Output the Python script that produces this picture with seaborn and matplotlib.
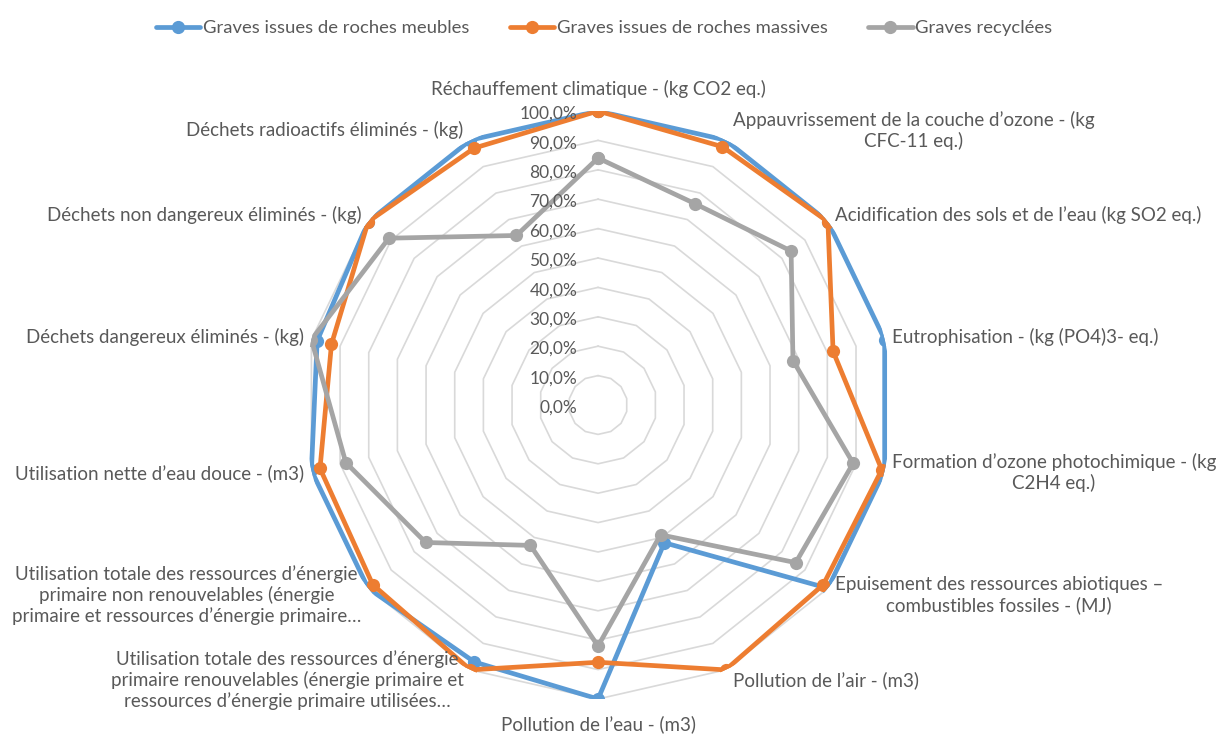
import numpy as np
import pandas as pd
import seaborn as sns
import matplotlib.pyplot as plt

# categories / series
categories = [
    "Réchauffement climatique - (kg CO2 eq.)",
    "Appauvrissement de la couche d’ozone - (kg\nCFC-11 eq.)",
    "Acidification des sols et de l’eau (kg SO2 eq.)",
    "Eutrophisation - (kg (PO4)3- eq.)",
    "Formation d’ozone photochimique - (kg\nC2H4 eq.)",
    "Epuisement des ressources abiotiques –\ncombustibles fossiles - (MJ)",
    "Pollution de l’air - (m3)",
    "Pollution de l’eau - (m3)",
    "Utilisation totale des ressources d’énergie\nprimaire renouvelables (énergie primaire et\nressources d’énergie primaire utilisées…",
    "Utilisation totale des ressources d’énergie\nprimaire non renouvelables (énergie\nprimaire et ressources d’énergie primaire…",
    "Utilisation nette d’eau douce - (m3)",
    "Déchets dangereux éliminés - (kg)",
    "Déchets non dangereux éliminés - (kg)",
    "Déchets radioactifs éliminés - (kg)",
]
meubles = [1.00, 1.00, 1.00, 1.00, 1.00, 1.00, 0.52, 1.00, 0.97, 1.00, 1.00, 0.98, 1.00, 1.00]
massives = [1.00, 0.975, 1.00, 0.82, 0.99, 0.98, 1.00, 0.875, 1.00, 0.98, 0.97, 0.93, 1.00, 0.97]
recyclees = [0.84, 0.76, 0.84, 0.68, 0.89, 0.86, 0.49, 0.82, 0.53, 0.75, 0.88, 1.00, 0.91, 0.64]
series_names = ["Graves issues de roches meubles", "Graves issues de roches massives", "Graves recyclées"]
colors = ["#5B9BD5", "#ED7D31", "#A5A5A5"]
ticks = [0.0, 0.1, 0.2, 0.3, 0.4, 0.5, 0.6, 0.7, 0.8, 0.9, 1.0]
tick_labels = ["0,0%", "10,0%", "20,0%", "30,0%", "40,0%", "50,0%",
               "60,0%", "70,0%", "80,0%", "90,0%", "100,0%"]

sns.set_theme(style="white")
plt.rcParams["font.family"] = ["Lato", "DejaVu Sans"]
txt = "#595959"

n = len(categories)
theta = np.linspace(0, 2 * np.pi, n, endpoint=False)
theta_c = np.append(theta, 2 * np.pi)

rows = []
for name, vals in zip(series_names, [meubles, massives, recyclees]):
    v = list(vals) + [vals[0]]
    for t, r in zip(theta_c, v):
        rows.append({"theta": t, "valeur": r, "serie": name})
df = pd.DataFrame(rows)

fig = plt.figure(figsize=(12.19, 7.40), dpi=100)
ax = fig.add_axes([0.2494, 0.0554, 0.4824, 0.7946], projection="polar")
ax.set_theta_zero_location("N")
ax.set_theta_direction(-1)
ax.set_ylim(0, 1)
ax.grid(False)
ax.spines["polar"].set_visible(False)
ax.set_xticks([])
ax.set_yticks([])

# polygon grid
for t in ticks[1:]:
    ax.plot(theta_c, [t] * (n + 1), color="#D9D9D9", lw=1.2, zorder=1)

sns.lineplot(data=df, x="theta", y="valeur", hue="serie", palette=colors,
             sort=False, estimator=None, marker="o", markersize=9.5,
             markeredgewidth=0, linewidth=3.4, ax=ax, zorder=3)
ax.set_xlabel("")
ax.set_ylabel("")
ax.get_legend().remove()

# radial tick labels
for t, lab in zip(ticks, tick_labels):
    ax.annotate(lab, xy=(0, t), xytext=(-15, -2), textcoords="offset points",
                ha="right", va="center", fontsize=12.5, color=txt)

# category labels
for ang, lab in zip(theta, categories):
    s, c = np.sin(ang), np.cos(ang)
    if abs(s) < 0.01:
        ha = "center"
        if c > 0:
            va, dx, dy = "bottom", 0, 9
        else:
            va, dx, dy = "top", 0, -12
    else:
        ha = "left" if s > 0 else "right"
        va, dx, dy = "center", 5 * np.sign(s), 8 * c
    ax.annotate(lab, xy=(ang, 1.0), xytext=(dx, dy), textcoords="offset points",
                ha=ha, va=va, multialignment="center", fontsize=13.5, color=txt,
                linespacing=1.2, annotation_clip=False)

handles = [plt.Line2D([], [], color=col, lw=3.4, marker="o", markersize=9.5, markeredgewidth=0)
           for col in colors]
fig.legend(handles, series_names, loc="upper center", bbox_to_anchor=(0.4955, 0.995),
           ncol=3, frameon=False, fontsize=13.3, labelcolor=txt, handlelength=2.4,
           handletextpad=0.15, columnspacing=2.2)

fig.savefig("out.png", dpi=100)
